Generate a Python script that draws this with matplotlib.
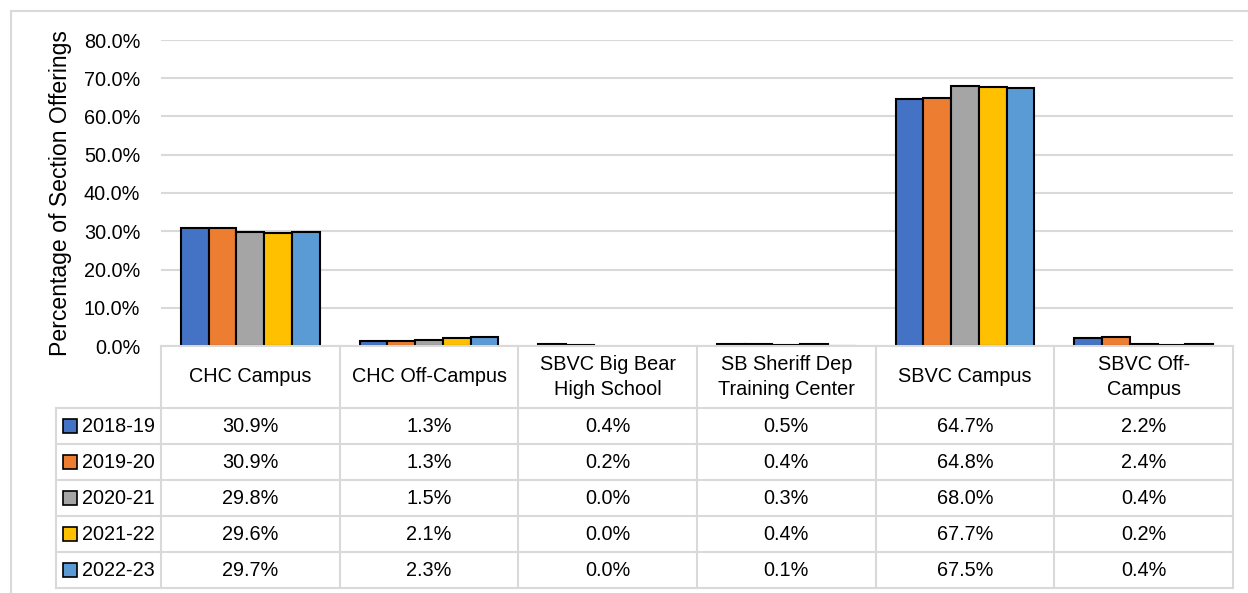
import numpy as np
import matplotlib
matplotlib.use('Agg')
import matplotlib.pyplot as plt
from matplotlib.patches import Rectangle

plt.rcParams['font.family'] = ['Liberation Sans', 'DejaVu Sans']

categories = ['CHC Campus', 'CHC Off-Campus', 'SBVC Big Bear\nHigh School',
              'SB Sheriff Dep\nTraining Center', 'SBVC Campus', 'SBVC Off-\nCampus']
years = ['2018-19', '2019-20', '2020-21', '2021-22', '2022-23']
colors = ['#4472C4', '#ED7D31', '#A5A5A5', '#FFC000', '#5B9BD5']

v_2018_19 = [30.9, 1.3, 0.4, 0.5, 64.7, 2.2]
v_2019_20 = [30.9, 1.3, 0.2, 0.4, 64.8, 2.4]
v_2020_21 = [29.8, 1.5, 0.0, 0.3, 68.0, 0.4]
v_2021_22 = [29.6, 2.1, 0.0, 0.4, 67.7, 0.2]
v_2022_23 = [29.7, 2.3, 0.0, 0.1, 67.5, 0.4]
series = [v_2018_19, v_2019_20, v_2020_21, v_2021_22, v_2022_23]

W, H = 1248, 593
fs = 14.3
grid_c = '#D9D9D9'

fig = plt.figure(figsize=(W / 100, H / 100), dpi=100)

# outer chart frame
fig.patches.append(Rectangle((11 / W, -0.1), 1.2, (H - 11) / H + 0.1, transform=fig.transFigure,
                             fill=False, edgecolor=grid_c, lw=1.5))

# bar axes
x0, x1 = 161, 1233
y_top, y_zero = 40, 346
ax = fig.add_axes([x0 / W, (H - y_zero) / H, (x1 - x0) / W, (y_zero - y_top) / H])
n = len(categories)
bw = 0.155
x = np.arange(n) + 0.5
for i, (vals, c) in enumerate(zip(series, colors)):
    vals = np.array(vals)
    lw = np.where(vals > 0, 1.5, 0)
    ax.bar(x + (i - 2) * bw, vals / 100, width=bw, color=c, edgecolor='black',
           linewidth=lw, zorder=3)
ax.set_xlim(0, n)
ax.set_ylim(0, 0.8)
ticks = np.arange(0, 0.81, 0.1)
ax.set_yticks(ticks)
ax.set_yticklabels([f'{t * 100:.1f}%' for t in ticks], fontsize=fs)
ax.set_xticks([])
ax.tick_params(axis='y', length=0, pad=15)
ax.grid(axis='y', color=grid_c, lw=1.5, zorder=0)
for s in ax.spines.values():
    s.set_visible(False)
ax.set_ylabel('Percentage of Section Offerings', fontsize=16.6)
ax.yaxis.set_label_coords(-89 / (x1 - x0), 0.5)

# data table
tx0 = 56
head_h, row_h = 62, 36
tot_h = head_h + row_h * len(years)
cw = (x1 - x0) / n
left = -(x0 - tx0) / cw
tab = fig.add_axes([tx0 / W, (H - y_zero - tot_h) / H, (x1 - tx0) / W, tot_h / H])
tab.set_xlim(left, n)
tab.set_ylim(tot_h, 0)
tab.axis('off')

lk = dict(color=grid_c, lw=1.5, clip_on=False)
tab.plot([0, n], [0, 0], **lk)
for j in range(n + 1):
    tab.plot([j, j], [0, tot_h], **lk)
tab.plot([left, left], [head_h, tot_h], **lk)
for r in range(len(years) + 1):
    y = head_h + r * row_h
    tab.plot([left, n], [y, y], **lk)

for j, cat in enumerate(categories):
    tab.text(j + 0.5, head_h / 2, cat, ha='center', va='center', fontsize=fs, linespacing=1.45)

sq = 14
for r, (yr, vals, c) in enumerate(zip(years, series, colors)):
    yc = head_h + (r + 0.5) * row_h
    tab.add_patch(Rectangle((left + 7 / cw, yc - sq / 2), sq / cw, sq, facecolor=c,
                            edgecolor='black', lw=1.2, clip_on=False))
    tab.text(left + 26 / cw, yc, yr, ha='left', va='center', fontsize=fs)
    for j, v in enumerate(vals):
        tab.text(j + 0.5, yc, f'{v:.1f}%', ha='center', va='center', fontsize=fs)

fig.savefig('out.png', dpi=100)
